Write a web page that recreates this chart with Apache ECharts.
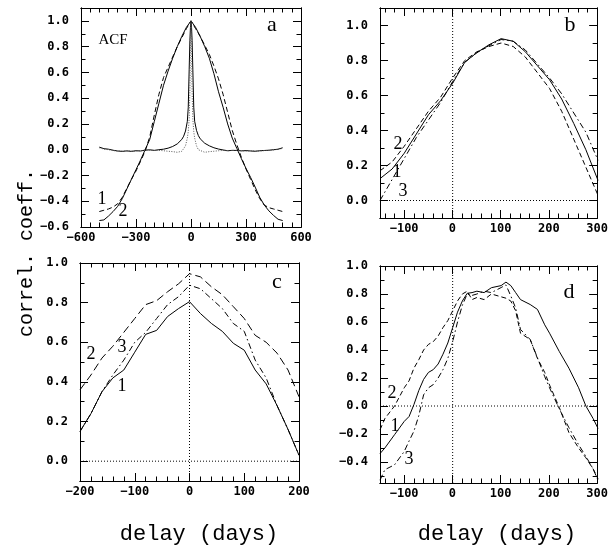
<!DOCTYPE html>
<html>
<head>
<meta charset="utf-8">
<script src="https://cdn.jsdelivr.net/npm/echarts@6/dist/echarts.min.js"></script>
<style>
html, body { margin: 0; padding: 0; background: #fff; }
#wrap { position: relative; width: 611px; height: 545px; }
#axes, #plot { position: absolute; left: 0; top: 0; width: 611px; height: 545px; }
</style>
</head>
<body>
<div id="wrap">
  <div id="axes"></div>
  <div id="plot"></div>
</div>
<script>
// panel a : ACF, broad (1 solid, 2 dashed) and narrow (solid, dotted) curves
var aBroadX = [-500,-475,-450,-425,-400,-375,-350,-325,-300,-275,-250,-225,-200,-175,-150,-125,-100,-75,-50,-25,0,
               25,50,75,100,125,150,175,200,225,250,275,300,325,350,375,400,425,450,475,500];
var aBroad1 = [-0.55,-0.545,-0.515,-0.48,-0.44,-0.38,-0.305,-0.23,-0.155,-0.08,0.0,0.08,0.22,0.36,0.50,0.61,0.71,0.80,0.88,0.95,1.0,
               0.95,0.88,0.80,0.71,0.59,0.45,0.33,0.20,0.09,0.01,-0.07,-0.145,-0.215,-0.29,-0.37,-0.43,-0.475,-0.51,-0.54,-0.55];
var aBroad2 = [-0.48,-0.47,-0.46,-0.445,-0.42,-0.37,-0.30,-0.23,-0.165,-0.09,-0.01,0.10,0.27,0.43,0.56,0.64,0.72,0.80,0.87,0.94,1.0,
               0.94,0.88,0.81,0.74,0.65,0.55,0.43,0.29,0.15,0.04,-0.06,-0.15,-0.23,-0.31,-0.38,-0.43,-0.45,-0.46,-0.47,-0.48];
var aNarrowX = [-500,-475,-450,-425,-400,-375,-350,-325,-300,-275,-250,-225,-200,-175,-150,-125,-100,-75,-50,-40,-30,-20,-15,-10,-6,-3,0,
                3,6,10,15,20,30,40,50,75,100,125,150,175,200,225,250,275,300,325,350,375,400,425,450,475,500];
var aNarrow1 = [0.02,0.008,0.004,-0.004,-0.01,-0.013,-0.009,-0.013,-0.008,-0.01,-0.003,-0.001,-0.005,0.0,0.004,0.012,0.025,0.045,0.08,0.105,0.145,0.22,0.33,0.62,0.85,0.95,1.0,
                0.95,0.85,0.62,0.33,0.22,0.15,0.11,0.085,0.05,0.03,0.015,0.005,-0.002,-0.008,-0.005,-0.006,-0.009,-0.007,-0.01,-0.012,-0.008,-0.006,-0.004,0.0,0.004,0.015];
var aNarrowDot = [0.015,0.005,0.0,-0.006,-0.012,-0.01,-0.012,-0.01,-0.01,-0.007,-0.005,-0.004,-0.006,-0.005,-0.008,-0.012,-0.015,-0.02,-0.012,0.0,0.03,0.09,0.14,0.24,0.45,0.8,1.0,
                  0.8,0.45,0.24,0.14,0.09,0.03,0.0,-0.012,-0.02,-0.015,-0.012,-0.008,-0.006,-0.008,-0.006,-0.005,-0.008,-0.01,-0.008,-0.011,-0.01,-0.007,-0.005,-0.002,0.003,0.01];

// panel b
var bX = [-150,-125,-100,-75,-50,-25,0,25,50,75,100,125,150,175,200,225,250,275,300];
var bSolid1 = [0.125,0.18,0.27,0.38,0.49,0.57,0.67,0.79,0.845,0.89,0.925,0.91,0.85,0.77,0.69,0.58,0.44,0.29,0.115];
var bDash2 = [0.17,0.22,0.31,0.41,0.51,0.59,0.70,0.80,0.85,0.88,0.90,0.88,0.82,0.73,0.64,0.51,0.35,0.19,0.03];
var bDashDot3 = [0.0,0.12,0.24,0.36,0.46,0.56,0.68,0.79,0.845,0.885,0.92,0.91,0.86,0.78,0.70,0.61,0.50,0.39,0.23];

// panel c
var cX = [-200,-180,-160,-140,-120,-100,-80,-60,-40,-20,0,20,40,60,80,100,120,140,160,180,200];
var cSolid1 = [0.15,0.24,0.35,0.42,0.46,0.55,0.64,0.66,0.73,0.77,0.805,0.745,0.695,0.655,0.595,0.56,0.46,0.39,0.28,0.16,0.03];
var cDash2 = [0.36,0.435,0.52,0.58,0.65,0.72,0.79,0.81,0.855,0.895,0.946,0.93,0.88,0.84,0.78,0.72,0.635,0.60,0.545,0.46,0.325];
var cDashDot3 = [0.15,0.24,0.35,0.435,0.51,0.60,0.65,0.72,0.79,0.83,0.888,0.87,0.82,0.77,0.695,0.655,0.51,0.42,0.28,0.16,0.03];

// panel d
var dX = [-150,-140,-120,-100,-90,-80,-70,-60,-50,-40,-30,-20,-10,0,10,20,30,40,50,65,80,100,110,120,130,140,160,175,190,200,220,240,260,275,290,300];
var dSolid1 = [-0.34,-0.30,-0.205,-0.11,-0.075,0.01,0.11,0.19,0.24,0.26,0.30,0.37,0.45,0.56,0.67,0.75,0.805,0.81,0.82,0.81,
               0.845,0.86,0.885,0.86,0.81,0.76,0.725,0.69,0.58,0.52,0.39,0.27,0.13,0.0,-0.09,-0.16];
var dDash2 = [-0.17,-0.09,0.0,0.13,0.18,0.27,0.33,0.40,0.44,0.46,0.50,0.56,0.61,0.68,0.75,0.80,0.82,0.76,0.775,0.76,
              0.80,0.78,0.77,0.75,0.68,0.52,0.475,0.34,0.24,0.15,-0.01,-0.19,-0.30,-0.37,-0.45,-0.52];
var dDashDot3 = [-0.53,-0.455,-0.42,-0.325,-0.25,-0.18,-0.07,0.08,0.13,0.153,0.20,0.26,0.34,0.46,0.60,0.72,0.80,0.79,0.80,0.82,
                 0.81,0.846,0.865,0.786,0.70,0.547,0.475,0.345,0.21,0.13,-0.02,-0.155,-0.277,-0.36,-0.45,-0.53];

// axis ranges [xmin, xmax, ymin, ymax]
var aRange = [-600, 600, -0.6, 1.1];
var bRange = [-150, 300, -0.1, 1.1];
var cRange = [-200, 200, -0.1, 1.0];
var dRange = [-150, 300, -0.55, 1.0];
var ranges = [aRange, bRange, cRange, dRange];

var grids = [
    { left: 81, top: 8, width: 220, height: 219 },
    { left: 380, top: 8, width: 218, height: 210 },
    { left: 80, top: 263, width: 219, height: 218 },
    { left: 380, top: 266, width: 218, height: 217 }
];

var tickFont = 'DejaVu Sans Mono';
var SOLID = 'solid', DASH = [5, 3], DASHDOT = [6, 3, 1.5, 3], DOT = [1, 2];

function pairs(xs, ys) {
    return xs.map(function (x, i) { return [x, ys[i]]; });
}
function onStep(v, step) {
    return Math.abs(Math.round(v / step) * step - v) < 1e-6;
}

// 4 axes per dimension: labelled major, minor, and the mirrored pair (top / right)
function makeAxes(dim, grid, min, max, major, minor, dec, margin) {
    var out = [];
    var sides = dim === 'x' ? ['bottom', 'top'] : ['left', 'right'];
    sides.forEach(function (pos, s) {
        [major, minor].forEach(function (step, j) {
            out.push({
                type: 'value', gridIndex: grid, position: pos,
                min: min, max: max, minInterval: step, maxInterval: step,
                axisLine: { show: true, onZero: false, lineStyle: { color: '#000', width: 1 } },
                splitLine: { show: false },
                axisTick: { show: true, inside: true, length: j === 0 ? 8 : 4.5,
                            lineStyle: { color: '#000', width: 1 } },
                axisLabel: {
                    show: s === 0 && j === 0, margin: margin,
                    fontFamily: tickFont, fontSize: 12, fontWeight: 'bold', color: '#000',
                    formatter: function (v) {
                        if (!onStep(v, major)) return '';
                        var t = dec ? v.toFixed(1) : String(Math.round(v));
                        return t.replace('-', '\u2212');
                    }
                }
            });
        });
    });
    return out;
}

// bottom layer: frames, ticks and tick labels only
var axesChart = echarts.init(document.getElementById('axes'));
axesChart.setOption({
    animation: false,
    grid: grids,
    xAxis: [].concat(
        makeAxes('x', 0, aRange[0], aRange[1], 300, 50, false, 5),
        makeAxes('x', 1, bRange[0], bRange[1], 100, 20, false, 5),
        makeAxes('x', 2, cRange[0], cRange[1], 100, 20, false, 5),
        makeAxes('x', 3, dRange[0], dRange[1], 100, 20, false, 5)
    ),
    yAxis: [].concat(
        makeAxes('y', 0, aRange[2], aRange[3], 0.2, 0.1, true, 12),
        makeAxes('y', 1, bRange[2], bRange[3], 0.2, 0.1, true, 12),
        makeAxes('y', 2, cRange[2], cRange[3], 0.2, 0.1, true, 12),
        makeAxes('y', 3, dRange[2], dRange[3], 0.2, 0.1, true, 12)
    )
});

// top layer: curves and text, on hidden axes with the same ranges
function line(grid, data, type, color) {
    return {
        type: 'line', xAxisIndex: grid, yAxisIndex: grid,
        data: data, showSymbol: false, symbol: 'none',
        lineStyle: { color: color || '#000', width: 1, type: type }
    };
}
function zeroLines(grid) {
    var r = ranges[grid];
    return [
        line(grid, [[r[0], 0], [r[1], 0]], DOT),
        line(grid, [[0, r[2]], [0, r[3]]], DOT)
    ];
}
function txt(s, x, y, font, rot) {
    return {
        type: 'text', x: x, y: y, rotation: rot || 0, silent: true,
        style: { text: s, font: font, fill: '#000', align: 'center', verticalAlign: 'middle' }
    };
}

var serif = 'Liberation Serif';
var mono = 'Liberation Mono';

var plotChart = echarts.init(document.getElementById('plot'));
plotChart.setOption({
    animation: false,
    grid: grids,
    xAxis: ranges.map(function (r, g) { return { type: 'value', gridIndex: g, min: r[0], max: r[1], show: false }; }),
    yAxis: ranges.map(function (r, g) { return { type: 'value', gridIndex: g, min: r[2], max: r[3], show: false }; }),
    series: [].concat(
        [
            line(0, pairs(aBroadX, aBroad1), SOLID),
            line(0, pairs(aBroadX, aBroad2), DASH),
            line(0, pairs(aNarrowX, aNarrow1), SOLID),
            line(0, pairs(aNarrowX, aNarrowDot), [1, 1.5], '#555')
        ],
        zeroLines(1),
        [
            line(1, pairs(bX, bSolid1), SOLID),
            line(1, pairs(bX, bDash2), DASH),
            line(1, pairs(bX, bDashDot3), DASHDOT)
        ],
        zeroLines(2),
        [
            line(2, pairs(cX, cSolid1), SOLID),
            line(2, pairs(cX, cDash2), [8, 4]),
            line(2, pairs(cX, cDashDot3), DASHDOT)
        ],
        zeroLines(3),
        [
            line(3, pairs(dX, dSolid1), SOLID),
            line(3, pairs(dX, dDash2), DASH),
            line(3, pairs(dX, dDashDot3), DASHDOT)
        ]
    ),
    graphic: [
        txt('a', 272, 25.6, '22px ' + serif),
        txt('b', 570, 25.6, '22px ' + serif),
        txt('c', 277, 282.6, '22px ' + serif),
        txt('d', 569, 292.6, '22px ' + serif),
        txt('ACF', 113, 40, '15px ' + serif),
        txt('1', 102, 199, '18px ' + serif),
        txt('2', 123, 211, '18px ' + serif),
        txt('2', 398, 144, '18px ' + serif),
        txt('1', 397, 172, '18px ' + serif),
        txt('3', 403, 191, '18px ' + serif),
        txt('2', 91, 354, '18px ' + serif),
        txt('3', 122, 347, '18px ' + serif),
        txt('1', 122, 386, '18px ' + serif),
        txt('2', 392, 393, '18px ' + serif),
        txt('1', 395, 426, '18px ' + serif),
        txt('3', 409, 459, '18px ' + serif),
        txt('correl. coeff.', 27, 253, '20px ' + mono, Math.PI / 2),
        txt('delay (days)', 199, 534, '22px ' + mono),
        txt('delay (days)', 497, 534, '22px ' + mono)
    ]
});
</script>
</body>
</html>
